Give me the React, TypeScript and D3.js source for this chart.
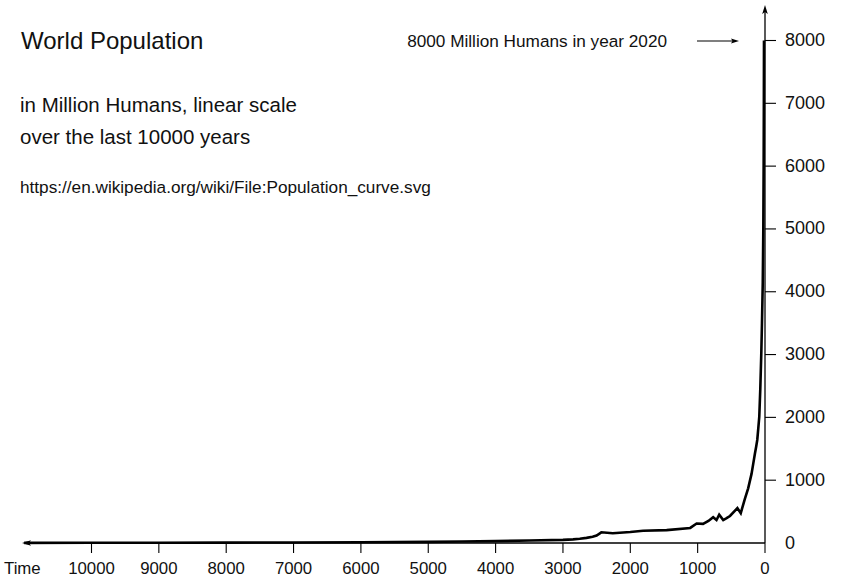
import { useMemo } from "react";
import * as d3 from "d3";

// years before present / population in millions
const yearsAgo = [
  11000, 10000, 9000, 8000, 7000, 6000, 5000, 4500, 4000, 3500, 3000, 2850, 2750, 2650,
  2560, 2500, 2430, 2260, 2000, 1810, 1460, 1110, 1015, 920, 840, 770, 720, 680, 620,
  570, 520, 410, 360, 300, 250, 200, 175, 150, 130, 115, 100, 85, 70, 55, 45, 33, 25,
  20, 17, 15,
];
const population = [
  2, 4, 5, 6, 8, 12, 18, 24, 30, 40, 50, 58, 67, 82,
  100, 120, 170, 155, 175, 195, 205, 240, 310, 305, 350, 410, 365, 450, 365,
  395, 430, 555, 475, 700, 870, 1100, 1260, 1420, 1540, 1640, 1820, 2010, 2450, 3020, 3500, 4150, 5000,
  6000, 7000, 8000,
];

const xTicks = [10000, 9000, 8000, 7000, 6000, 5000, 4000, 3000, 2000, 1000, 0];
const yTicks = [1000, 2000, 3000, 4000, 5000, 6000, 7000, 8000];
const yLabels = [0, 1000, 2000, 3000, 4000, 5000, 6000, 7000, 8000];

const FONT = "'Liberation Sans', Arial, sans-serif";

export default function App() {
  const W = 852;
  const H = 579;

  const x = useMemo(() => d3.scaleLinear().domain([0, 10000]).range([765, 91.5]), []);
  const y = useMemo(() => d3.scaleLinear().domain([0, 8000]).range([543, 40.5]), []);

  const pts = yearsAgo.map((t, i) => [t, population[i]] as [number, number]);
  const line = d3
    .line<[number, number]>()
    .x((d) => x(d[0]))
    .y((d) => y(d[1]));

  const x0 = x(0);
  const y0 = y(0);
  const xLeft = 22;
  const yTop = 5;

  return (
    <svg
      width={W}
      height={H}
      style={{ position: "absolute", left: 0, top: 0, background: "#fff" }}
      fontFamily={FONT}
    >
      {/* titles */}
      <text x={21} y={48.5} fontSize={24} fill="#111">World Population</text>
      <text x={20} y={111.5} fontSize={20.5} fill="#111">in Million Humans, linear scale</text>
      <text x={20} y={144} fontSize={20.5} fill="#111">over the last 10000 years</text>
      <text x={20} y={193} fontSize={17.2} fill="#111">https://en.wikipedia.org/wiki/File:Population_curve.svg</text>

      {/* header note + arrow */}
      <text x={667} y={46.5} fontSize={17.2} fill="#111" textAnchor="end">8000 Million Humans in year 2020</text>
      <line x1={697} x2={734} y1={41} y2={41} stroke="#000" strokeWidth={1.2} />
      <path d="M739,41 L731,38.5 L732.5,41 L731,43.5 Z" fill="#000" />

      {/* curve */}
      <path d={line(pts) ?? ""} fill="none" stroke="#000" strokeWidth={2.6} strokeLinejoin="miter" />

      {/* x axis */}
      <line x1={xLeft + 4} x2={x0} y1={y0} y2={y0} stroke="#000" strokeWidth={1.3} />
      <path d={`M${xLeft},${y0} L${xLeft + 9},${y0 - 2.8} L${xLeft + 7},${y0} L${xLeft + 9},${y0 + 2.8} Z`} fill="#000" />
      {xTicks.map((t) => (
        <g key={t}>
          <line x1={x(t)} x2={x(t)} y1={y0} y2={y0 + 10} stroke="#000" strokeWidth={1.1} />
          <text x={x(t)} y={574} fontSize={16.8} textAnchor="middle" fill="#111">{t}</text>
        </g>
      ))}
      <text x={4} y={574} fontSize={16.8} fill="#111">Time</text>

      {/* y axis */}
      <line x1={x0} x2={x0} y1={yTop + 4} y2={y0} stroke="#000" strokeWidth={1.3} />
      <path d={`M${x0},${yTop} L${x0 - 2.8},${yTop + 9} L${x0},${yTop + 7} L${x0 + 2.8},${yTop + 9} Z`} fill="#000" />
      {yTicks.map((v) => (
        <line key={v} x1={x0} x2={x0 + 11} y1={y(v)} y2={y(v)} stroke="#000" strokeWidth={1.1} />
      ))}
      {yLabels.map((v) => (
        <text key={v} x={785} y={y(v) + 5.5} fontSize={18} fill="#111">{v}</text>
      ))}
    </svg>
  );
}
